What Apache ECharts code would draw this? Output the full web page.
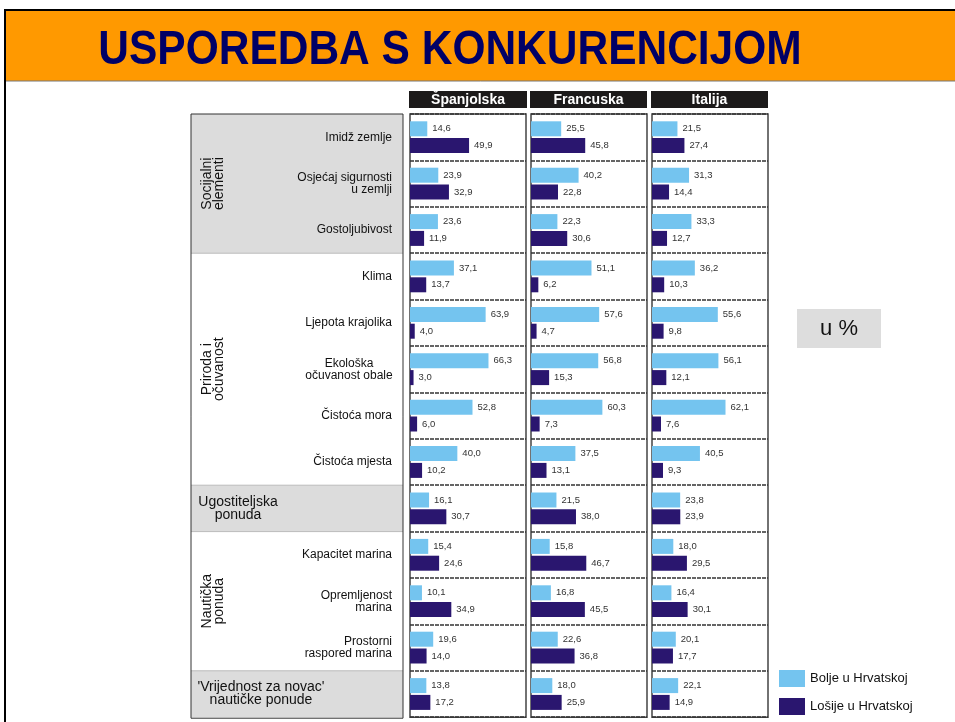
<!DOCTYPE html>
<html>
<head>
<meta charset="utf-8">
<script src="https://cdn.jsdelivr.net/npm/echarts@6/dist/echarts.min.js"></script>
<style>
  html, body { margin: 0; padding: 0; background: #fff; }
  #main { width: 955px; height: 722px; }
</style>
</head>
<body>
<div id="main"></div>
<script>
const categories = ['Imidž zemlje', 'Osjećaj sigurnosti\nu zemlji', 'Gostoljubivost', 'Klima',
  'Ljepota krajolika', 'Ekološka\nočuvanost obale', 'Čistoća mora', 'Čistoća mjesta',
  'Ugostiteljska ponuda', 'Kapacitet marina', 'Opremljenost\nmarina', 'Prostorni\nraspored marina',
  "'Vrijednost za novac' nautičke ponude"];
const countries = ['Španjolska', 'Francuska', 'Italija'];
const seriesNames = ['Bolje u Hrvatskoj', 'Lošije u Hrvatskoj'];

const boljeSpanjolska = [14.6, 23.9, 23.6, 37.1, 63.9, 66.3, 52.8, 40.0, 16.1, 15.4, 10.1, 19.6, 13.8];
const losijeSpanjolska = [49.9, 32.9, 11.9, 13.7, 4.0, 3.0, 6.0, 10.2, 30.7, 24.6, 34.9, 14.0, 17.2];
const boljeFrancuska = [25.5, 40.2, 22.3, 51.1, 57.6, 56.8, 60.3, 37.5, 21.5, 15.8, 16.8, 22.6, 18.0];
const losijeFrancuska = [45.8, 22.8, 30.6, 6.2, 4.7, 15.3, 7.3, 13.1, 38.0, 46.7, 45.5, 36.8, 25.9];
const boljeItalija = [21.5, 31.3, 33.3, 36.2, 55.6, 56.1, 62.1, 40.5, 23.8, 18.0, 16.4, 20.1, 22.1];
const losijeItalija = [27.4, 14.4, 12.7, 10.3, 9.8, 12.1, 7.6, 9.3, 23.9, 29.5, 30.1, 17.7, 14.9];

// groups of rows on the left (first row, last row)
const groups = [
  { name: 'Socijalni\nelementi', from: 0, to: 2, shaded: true, vertical: true },
  { name: 'Priroda i\nočuvanost', from: 3, to: 7, shaded: false, vertical: true },
  { name: 'Ugostiteljska\nponuda', from: 8, to: 8, shaded: true, vertical: false },
  { name: 'Nautička\nponuda', from: 9, to: 11, shaded: false, vertical: true },
  { name: "'Vrijednost za novac'\nnautičke ponude", from: 12, to: 12, shaded: true, vertical: false }
];

const chart = echarts.init(document.getElementById('main'));

const TOP = 114;
const ROW_H = 46.4;
const PANEL_W = 116;
const panelLeft = [410, 531, 652];
const headerBox = [[409, 118], [530, 117], [651, 117]];
const LIGHT = '#74C4EF';
const DARK = '#2A166F';
const dataSets = [
  [boljeSpanjolska, losijeSpanjolska],
  [boljeFrancuska, losijeFrancuska],
  [boljeItalija, losijeItalija]
];
const fmt = function (p) { return p.value.toFixed(1).replace('.', ','); };

const grids = [], xAxes = [], yAxes = [], series = [];
countries.forEach(function (c, i) {
  grids.push({
    left: panelLeft[i], top: TOP, width: PANEL_W, height: ROW_H * categories.length,
    show: true, borderColor: '#444', borderWidth: 1.5
  });
  xAxes.push({ type: 'value', gridIndex: i, min: 0, max: 98, show: false });
  yAxes.push({
    type: 'category', gridIndex: i, data: categories, inverse: true,
    axisLine: { show: false }, axisTick: { show: false },
    splitLine: { show: true, lineStyle: { color: '#333', width: 1.5, type: [4, 1] } },
    axisLabel: {
      show: i === 0, margin: 18, fontSize: 12, lineHeight: 12, color: '#111',
      fontFamily: 'Liberation Sans',
      formatter: function (v, idx) {
        if (idx === 8 || idx === 12) return '';
        if (idx === 5) return v.split('\n').map(function (s) { return '{c|' + s + '}'; }).join('\n');
        return v;
      },
      rich: { c: { width: 86, align: 'center', fontSize: 12, lineHeight: 12, color: '#111', fontFamily: 'Liberation Sans' } }
    }
  });
  dataSets[i].forEach(function (vals, k) {
    series.push({
      name: seriesNames[k], type: 'bar', xAxisIndex: i, yAxisIndex: i, data: vals,
      barWidth: 15, barGap: '12%',
      itemStyle: { color: k === 0 ? LIGHT : DARK },
      label: {
        show: true, position: 'right', distance: 5, formatter: fmt,
        fontSize: 9.5, color: '#333', fontFamily: 'Liberation Sans'
      }
    });
  });
});

const graphics = [];
// slide frame and title banner
graphics.push({ type: 'rect', shape: { x: 6, y: 10, width: 949, height: 71 }, style: { fill: '#FF9900' }, z: -10 });
graphics.push({ type: 'line', shape: { x1: 4, y1: 10, x2: 955, y2: 10 }, style: { stroke: '#000', lineWidth: 2 }, z: -9 });
graphics.push({ type: 'line', shape: { x1: 5, y1: 9, x2: 5, y2: 722 }, style: { stroke: '#000', lineWidth: 2 }, z: -9 });
graphics.push({ type: 'line', shape: { x1: 6, y1: 81, x2: 955, y2: 81 }, style: { stroke: '#777', lineWidth: 1 }, z: -9 });
graphics.push({
  type: 'text', x: 450, y: 51, scaleX: 0.885, originX: 0, originY: 0,
  style: {
    text: 'USPOREDBA S KONKURENCIJOM', fill: '#000066', font: 'bold 48px "Liberation Sans"',
    textAlign: 'center', textVerticalAlign: 'middle',
    textShadowColor: '#8c8c8c', textShadowOffsetX: 3, textShadowOffsetY: 3, textShadowBlur: 0
  }
});

// country header boxes
countries.forEach(function (c, i) {
  graphics.push({ type: 'rect', shape: { x: headerBox[i][0], y: 91, width: headerBox[i][1], height: 17 }, style: { fill: '#1c1a1a' } });
  graphics.push({
    type: 'text', x: headerBox[i][0] + headerBox[i][1] / 2, y: 100,
    style: { text: c, fill: '#fff', font: 'bold 14px "Liberation Sans"', textAlign: 'center', textVerticalAlign: 'middle' }
  });
});

// left label box with groups
groups.forEach(function (g) {
  const y0 = TOP + g.from * ROW_H;
  const y1 = TOP + (g.to + 1) * ROW_H;
  if (g.shaded) {
    graphics.push({ type: 'rect', shape: { x: 191, y: y0, width: 212, height: y1 - y0 }, style: { fill: '#DCDCDC' }, z: -5 });
  }
  if (g.from > 0) {
    graphics.push({ type: 'line', shape: { x1: 191, y1: y0, x2: 403, y2: y0 }, style: { stroke: '#bbb', lineWidth: 1 }, z: -4 });
  }
  if (g.vertical) {
    graphics.push({
      type: 'text', x: 213, y: (y0 + y1) / 2, rotation: Math.PI / 2,
      style: { text: g.name, fill: '#111', font: '14px "Liberation Sans"', lineHeight: 12, textAlign: 'center', textVerticalAlign: 'middle' }
    });
  } else {
    graphics.push({
      type: 'text', x: g.from === 8 ? 238 : 261, y: (y0 + y1) / 2,
      style: { text: g.name, fill: '#111', font: '14px "Liberation Sans"', lineHeight: 13, textAlign: 'center', textVerticalAlign: 'middle' }
    });
  }
});
graphics.push({
  type: 'rect', shape: { x: 191, y: TOP, width: 212, height: ROW_H * categories.length + 1 },
  style: { fill: 'none', stroke: '#333', lineWidth: 1 }, z: -3
});

// unit box
graphics.push({ type: 'rect', shape: { x: 797, y: 309, width: 84, height: 39 }, style: { fill: '#DDDDDD' } });
graphics.push({
  type: 'text', x: 839, y: 329,
  style: { text: 'u %', fill: '#111', font: '22px "Liberation Sans"', textAlign: 'center', textVerticalAlign: 'middle' }
});

chart.setOption({
  animation: false,
  backgroundColor: '#fff',
  legend: {
    data: seriesNames, orient: 'vertical', left: 779, top: 670, padding: 0,
    itemWidth: 26, itemHeight: 17, itemGap: 11, icon: 'rect',
    textStyle: { fontSize: 13, color: '#111', fontFamily: 'Liberation Sans' }
  },
  grid: grids,
  xAxis: xAxes,
  yAxis: yAxes,
  series: series,
  graphic: graphics
});
</script>
</body>
</html>
